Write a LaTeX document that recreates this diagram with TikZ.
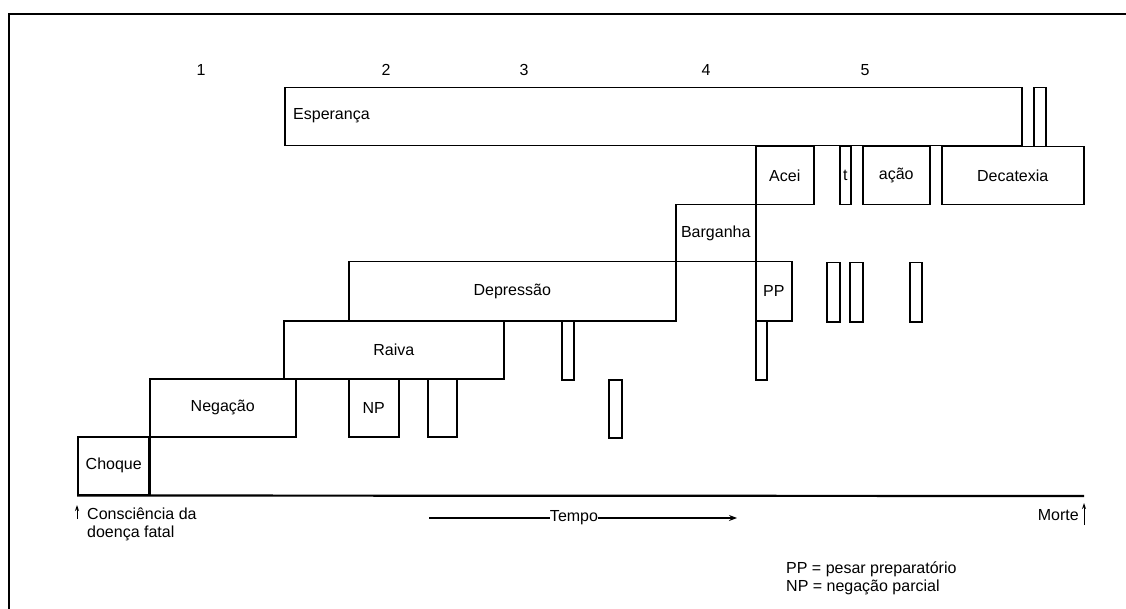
\documentclass[tikz,border=0pt]{standalone}
\usepackage{fontspec}
\setmainfont{Liberation Sans}
\usetikzlibrary{arrows.meta}
\tikzset{
  stagebox/.style={draw, line width=1.5pt, inner sep=0pt, anchor=north west,
    font=\fontsize{16}{19}\selectfont},
  lbl/.style={inner sep=0pt, font=\fontsize{16}{19}\selectfont},
  uparrow/.style={line width=1pt, -{Stealth[length=6pt,width=4pt]}},
}
\begin{document}
\begin{tikzpicture}[x=1pt,y=-1pt]
\useasboundingbox (0,0) rectangle (1126,609);
% frame
\draw[line width=2pt] (1130,14) -- (9,14) -- (9,615);
% phase numbers
\node[lbl] (n1) at (201,70) {1};
\node[lbl] (n2) at (386,70) {2};
\node[lbl] (n3) at (524,70) {3};
\node[lbl] (n4) at (706,70) {4};
\node[lbl] (n5) at (865,70) {5};
% boxes
\node[stagebox, minimum width=737pt, minimum height=58pt] (esp) at (284,87) {};
\node[lbl, anchor=west] (esptxt) at (293,116) {Esperança};
\node[stagebox, minimum width=12pt, minimum height=59pt] (espb) at (1033,87) {};
\node[stagebox, minimum width=58pt, minimum height=58pt] (acei) at (755,146) {Acei};
\node[stagebox, minimum width=11pt, minimum height=58pt] (tb) at (839,146) {t};
\node[stagebox, minimum width=67pt, minimum height=58pt] (acao) at (862,146) {ação};
\node[stagebox, minimum width=142pt, minimum height=58pt] (deca) at (941,146) {Decatexia};
\node[stagebox, minimum width=80pt, minimum height=57pt] (barg) at (675,204) {Barganha};
\node[stagebox, minimum width=327pt, minimum height=59pt] (depr) at (348,261) {Depressão};
\node[stagebox, minimum width=36pt, minimum height=59pt] (pp) at (755,261) {PP};
\node[stagebox, minimum width=11pt, minimum height=59pt] (ppb) at (755,320) {};
\node[stagebox, minimum width=13pt, minimum height=59pt] (r1) at (826,262) {};
\node[stagebox, minimum width=13pt, minimum height=59pt] (r2) at (849,262) {};
\node[stagebox, minimum width=12pt, minimum height=59pt] (r3) at (909,262) {};
\node[stagebox, minimum width=12pt, minimum height=59pt] (dn) at (561,320) {};
\node[stagebox, minimum width=13pt, minimum height=58pt] (dr) at (608,379) {};
\node[stagebox, minimum width=220pt, minimum height=58pt] (raiva) at (283,320) {Raiva};
\node[stagebox, minimum width=146pt, minimum height=58pt] (neg) at (149,378) {Negação};
\node[stagebox, minimum width=50pt, minimum height=58pt] (np) at (348,378) {NP};
\node[stagebox, minimum width=29pt, minimum height=58pt] (np2) at (427,378) {};
\node[stagebox, minimum width=72pt, minimum height=58pt] (choque) at (77,436) {Choque};
% Negação left edge continues to the base line
\coordinate (negbase) at (149,494);
\draw[line width=1.5pt] (neg.south west) -- (negbase);
% base line
\coordinate (baseend) at (1084,496);
\draw[line width=2.2pt] (choque.south west) -- (baseend);
% left arrow and label
\coordinate (la0) at (77,519);
\coordinate (la1) at (77,505);
\draw[uparrow] (la0) -- (la1);
\node[lbl, anchor=west] (cons1) at (87,514) {Consciência da};
\node[lbl, anchor=west] (cons2) at (87,533) {doença fatal};
% right arrow and label
\coordinate (ra0) at (1084,525);
\coordinate (ra1) at (1084,503);
\draw[uparrow] (ra0) -- (ra1);
\node[lbl, anchor=east] (morte) at (1079,515) {Morte};
% time arrow
\node[lbl] (tempo) at (574,518) {Tempo};
\coordinate (t0) at (429,518);
\coordinate (t1) at (737,518);
\draw[line width=1.3pt] (t0) -- (tempo.west);
\draw[line width=1.3pt, -{Stealth[length=8pt,width=6pt]}] (tempo.east) -- (t1);
% legend
\node[lbl, anchor=west] (leg1) at (786,569) {PP = pesar preparatório};
\node[lbl, anchor=west] (leg2) at (786,587) {NP = negação parcial};
\end{tikzpicture}
\end{document}
